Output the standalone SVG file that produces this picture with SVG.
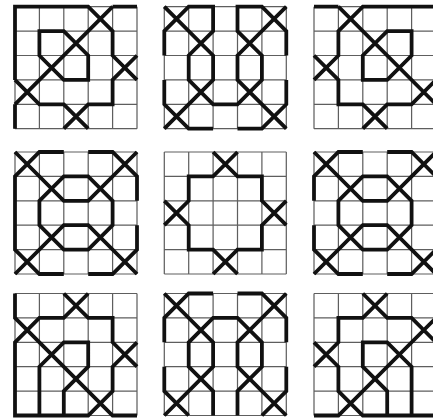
<svg xmlns="http://www.w3.org/2000/svg" xmlns:xlink="http://www.w3.org/1999/xlink" width="433" height="418" viewBox="0 0 433 418">
<style>
.g{fill:none;stroke:#5e5e5e;stroke-width:0.05}
.k{fill:none;stroke:#111;stroke-width:0.155;stroke-linejoin:miter;stroke-linecap:butt}
</style>
<defs>
<path id="grid" class="g" d="M0,0H5M0,1H5M0,2H5M0,3H5M0,4H5M0,5H5M0,0V5M1,0V5M2,0V5M3,0V5M4,0V5M5,0V5"/>
<path id="pA" class="k" d="M0,3V0H3L4,1V2L5,3M4,0H5M4,0L0,4M0,3L1,4H2L3,5M0,4V5M5,2L4,3V4H3L2,5M2,1H1V2L2,3H3V2Z"/>
<path id="pB" class="k" d="M0,2V1L1,0H2V1L1,2V3L2,4H3L4,3V2L3,1V0H4L5,1V2M0,0L2,2V3L0,5M5,0L3,2V3L5,5M0,3V4L1,5H2M5,3V4L4,5H3"/>
<path id="pF" class="k" d="M0,2V1L1,0M2,0V1L1,2V3L2,4H3L4,3V2L3,1V0M4,0L5,1V2M0,0L2,2V3L0,5M5,0L3,2V3L5,5M0,3V4L1,5H2M5,3V4L4,5H3"/>
<path id="pC" class="k" d="M0,0L2,2H3L5,0M0,5L2,3H3L5,5M2,1H3L4,2V3L3,4H2L1,3V2ZM2,0H1L0,1V4L1,5H2M3,0H4L5,1V2M5,3V4L4,5H3"/>
<path id="pD" class="k" d="M0,2L1,3V4H2L3,5M0,3L1,2V1H2L3,0M2,0L3,1H4V2L5,3M5,2L4,3V4H3L2,5"/>
<path id="pE" class="k" d="M0,0V1L4,5H5M3,0L2,1H1L0,2V5H3L4,4V3L5,2M2,0L3,1H4V2L5,3M1,5V3L2,2H3V3L2,4V5"/>
</defs>
<rect width="433" height="418" fill="#fff"/>
<g id="tile1" transform="translate(15,6.7) scale(24.4)"><use href="#grid"/><use href="#pA"/></g>
<g id="tile2" transform="translate(164.3,6.7) scale(24.4)"><use href="#grid"/><use href="#pB"/></g>
<g id="tile3" transform="translate(436,6.7) scale(-24.4,24.4)"><use href="#grid"/><use href="#pA"/></g>
<g id="tile4" transform="translate(15,152) scale(24.4)"><use href="#grid"/><use href="#pC"/></g>
<g id="tile5" transform="translate(164.3,152) scale(24.4)"><use href="#grid"/><use href="#pD"/></g>
<g id="tile6" transform="translate(436,152) scale(-24.4,24.4)"><use href="#grid"/><use href="#pC"/></g>
<g id="tile7" transform="translate(15,293.5) scale(24.4)"><use href="#grid"/><use href="#pE"/></g>
<g id="tile8" transform="translate(164.3,415.5) scale(24.4,-24.4)"><use href="#grid"/><use href="#pF"/></g>
<g id="tile9" transform="translate(436,293.5) scale(-24.4,24.4)"><use href="#grid"/><use href="#pE"/></g>
</svg>
